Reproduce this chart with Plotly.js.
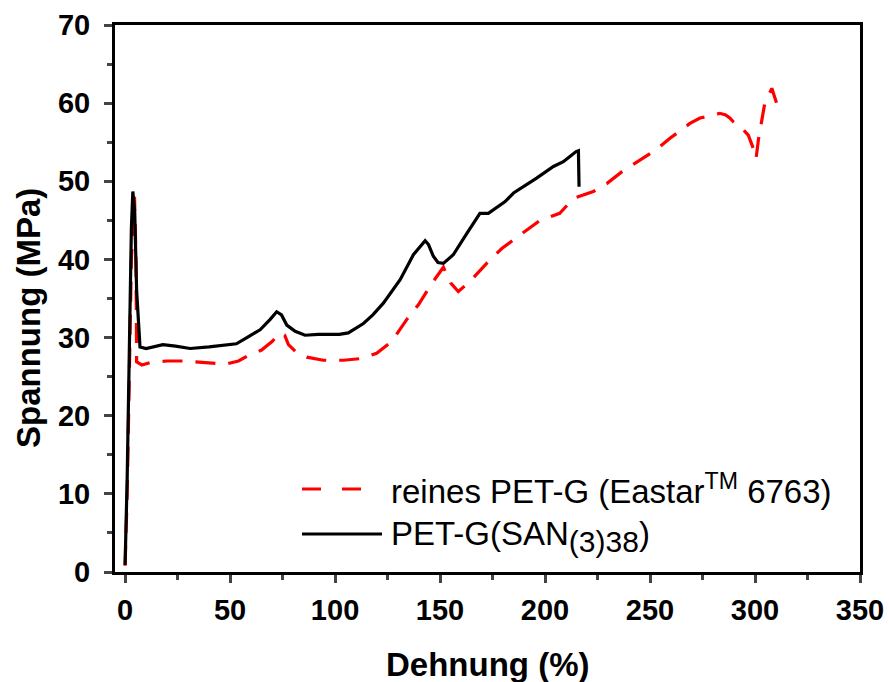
<!DOCTYPE html>
<html><head><meta charset="utf-8">
<script src="https://cdn.plot.ly/plotly-3.0.1.min.js"></script>
<style>body{margin:0;background:#fff}#chart{width:889px;height:682px}</style>
</head><body><div id="chart"></div>
<script>
// reines PET-G (Eastar 6763)
const petgX = [0, 1, 2, 3, 4.5, 5.2, 5.5, 8, 12, 20, 28, 38, 48, 54, 58, 65, 70, 73.8, 76, 77.8, 82, 86.5, 94.4, 104, 112, 119.8, 127, 134.1, 139.7, 146, 151.6, 155, 158.7, 164.3, 172.2, 179.4, 188, 197.6, 207, 213.5, 223, 229.4, 236.5, 243.7, 253.2, 259.5, 269, 273.8, 278, 283.3, 286, 288, 289.7, 293, 296.8, 299.2, 300.5, 301.6, 303.2, 304.8, 306.5, 308, 310.3];
const petgY = [0.8, 10, 25, 40, 48.0, 40, 26.9, 26.5, 26.8, 27.0, 27.0, 26.8, 26.6, 27.0, 27.6, 28.4, 29.5, 30.6, 30.3, 29.1, 28.0, 27.5, 27.1, 27.1, 27.3, 28.0, 29.5, 32.3, 34.2, 36.9, 39.0, 37.0, 35.9, 37.2, 39.5, 41.4, 43.1, 45.0, 45.9, 47.8, 48.7, 49.7, 51.2, 52.4, 54.1, 55.5, 57.4, 58.1, 58.3, 58.7, 58.5, 58.1, 57.6, 57.0, 55.9, 54.2, 52.9, 55.3, 57.8, 60.2, 61.0, 61.9, 60.0];
// PET-G(SAN(3)38)
const sanX = [0, 1, 2, 3, 3.7, 4.6, 5.5, 7.1, 10, 14, 18, 24, 31, 40, 48, 53, 58, 64.3, 69, 72.2, 74.5, 77, 81, 85.7, 92, 97.6, 102, 106.3, 110, 113.5, 118, 123, 131, 137.3, 142.9, 144.5, 146.8, 149, 151.6, 156.3, 162.7, 169, 173, 177, 181, 185, 189.7, 196, 204, 208.7, 212, 214.8, 215.9, 216.2];
const sanY = [0.9, 12, 28, 44, 48.7, 46, 36, 28.8, 28.6, 28.8, 29.1, 28.9, 28.6, 28.8, 29.0, 29.2, 30.0, 31.0, 32.3, 33.3, 32.9, 31.6, 30.8, 30.3, 30.4, 30.4, 30.4, 30.6, 31.2, 31.8, 32.9, 34.4, 37.4, 40.6, 42.4, 41.9, 40.4, 39.6, 39.5, 40.6, 43.3, 45.9, 45.9, 46.7, 47.4, 48.5, 49.3, 50.4, 51.9, 52.5, 53.2, 53.8, 53.9, 49.3];

const legendNames = ['reines PET-G (Eastar<sup>TM</sup> 6763)', 'PET-G(SAN<sub><span style="font-size:30px">(3)38</span></sub>)'];
const xTickVals = [0, 50, 100, 150, 200, 250, 300, 350];
const yTickVals = [0, 10, 20, 30, 40, 50, 60, 70];
const xTitle = 'Dehnung (%)';
const yTitle = 'Spannung (MPa)';

const tickFont = {family: '"Liberation Sans", Arial, sans-serif', size: 29, color: '#000', weight: 'bold'};
const titleFont = {family: '"Liberation Sans", Arial, sans-serif', size: 33, color: '#000', weight: 'bold'};
const legFont = {family: '"Liberation Sans", Arial, sans-serif', size: 33, color: '#000'};

const traces = [
  {x: petgX, y: petgY, mode: 'lines', name: 'reines PET-G (Eastar 6763)', line: {color: '#ff0000', width: 3.2, dash: '20px,13px'}},
  {x: sanX, y: sanY, mode: 'lines', name: 'PET-G(SAN(3)38)', line: {color: '#000000', width: 3.2}}
];

const L = 115, R = 860, T = 25, B = 572;
const px = v => (v - L) / (R - L);
const py = v => (B - v) / (B - T);

const layout = {
  width: 889, height: 682,
  margin: {l: L, r: 889 - R, t: T, b: 682 - B},
  paper_bgcolor: '#fff', plot_bgcolor: '#fff',
  showlegend: false,
  xaxis: {
    range: [-4.8, 350], tickvals: xTickVals, ticks: 'outside', ticklen: 8, tickwidth: 3,
    minor: {dtick: 25, tick0: 0, ticks: 'outside', ticklen: 5, tickwidth: 3},
    showline: true, linewidth: 3, linecolor: '#000', mirror: true, showgrid: false, zeroline: false,
    tickfont: tickFont, ticklabelstandoff: 2
  },
  yaxis: {
    range: [0, 70], tickvals: yTickVals, ticks: 'outside', ticklen: 8, tickwidth: 3,
    minor: {dtick: 5, tick0: 0, ticks: 'outside', ticklen: 5, tickwidth: 3},
    showline: true, linewidth: 3, linecolor: '#000', mirror: true, showgrid: false, zeroline: false,
    tickfont: tickFont, ticklabelstandoff: 8
  },
  shapes: [
    {type: 'line', xref: 'paper', yref: 'paper', x0: px(302), x1: px(382), y0: py(489), y1: py(489), line: {color: '#ff0000', width: 3.2, dash: '19px,21px'}},
    {type: 'line', xref: 'paper', yref: 'paper', x0: px(302), x1: px(382), y0: py(534), y1: py(534), line: {color: '#000', width: 3.2}}
  ],
  annotations: [
    {xref: 'paper', yref: 'paper', x: px(389), y: py(489), xanchor: 'left', yanchor: 'middle', showarrow: false, text: legendNames[0], font: legFont},
    {xref: 'paper', yref: 'paper', x: px(389), y: py(536), xanchor: 'left', yanchor: 'middle', showarrow: false, text: legendNames[1], font: legFont},
    {xref: 'paper', yref: 'paper', x: px(487), y: py(664), xanchor: 'center', yanchor: 'middle', showarrow: false, text: xTitle, font: titleFont},
    {xref: 'paper', yref: 'paper', x: px(28), y: py(318), xanchor: 'center', yanchor: 'middle', textangle: -90, showarrow: false, text: yTitle, font: titleFont}
  ]
};

Plotly.newPlot('chart', traces, layout, {displayModeBar: false, staticPlot: true});
</script>
</body></html>
